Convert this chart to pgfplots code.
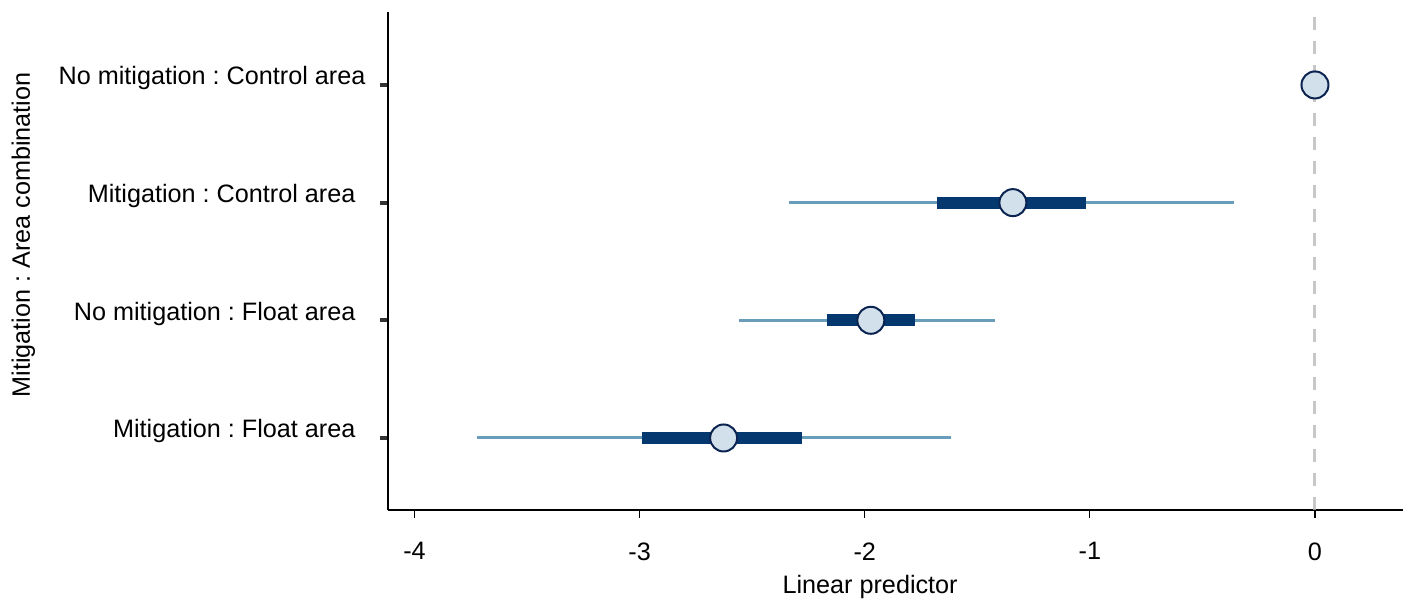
\documentclass[border=0pt]{standalone}
\usepackage{pgfplots}
\pgfplotsset{compat=1.18}
\usepackage{fontspec}
\setmainfont{Liberation Sans}
\frenchspacing
\definecolor{thinc}{RGB}{106,157,188}
\definecolor{thickc}{RGB}{5,56,110}
\definecolor{ptfill}{RGB}{209,224,235}
\definecolor{ptdraw}{RGB}{10,35,80}
\definecolor{tickc}{RGB}{51,51,51}
\begin{document}
\frenchspacing
\begin{tikzpicture}
\useasboundingbox (-194pt,-44.5pt) rectangle (512.5pt,255pt);
\begin{axis}[
  at={(0,0)}, anchor=south west,
  scale only axis, width=507.5pt, height=249pt,
  xmin=-4.118, xmax=0.391,
  ymin=0.388, ymax=4.620,
  axis x line*=bottom, axis y line*=left,
  axis line style={-, line width=0.75pt, black},
  tick align=outside,
  major tick length=3.75pt,
  xtick={-4,-3,-2,-1,0},
  xticklabels={-4,-3,-2,-1,0},
  ytick={1,2,3,4},
  yticklabels={{Mitigation : Float area\hspace*{5pt}},{No mitigation : Float area\hspace*{5pt}},{Mitigation : Control area\hspace*{5pt}},{No mitigation : Control area}},
  xtick style={line width=0.6pt, black},
  ytick style={line width=2pt, tickc},
  every tick label/.append style={font=\fontsize{12.6pt}{15pt}\selectfont\frenchspacing, text=black},
  yticklabel style={anchor=base east, xshift=-4pt},
  xticklabel style={yshift=-9pt},
  xlabel={Linear predictor},
  ylabel={Mitigation : Area combination},
  label style={font=\fontsize{12.6pt}{15pt}\selectfont\frenchspacing},
  xlabel style={at={(axis description cs:0.475,-0.1667)}, anchor=base},
  ylabel style={at={(axis description cs:-0.3527,0.552)}, anchor=base},
  clip=false,
]
% 95% intervals
\addplot[thinc, line width=1.5pt] coordinates {(-3.723,1) (-1.615,1)};
\addplot[thinc, line width=1.5pt] coordinates {(-2.559,2) (-1.421,2)};
\addplot[thinc, line width=1.5pt] coordinates {(-2.338,3) (-0.361,3)};
% 50% intervals
\addplot[thickc, line width=6pt] coordinates {(-2.988,1) (-2.281,1)};
\addplot[thickc, line width=6pt] coordinates {(-2.169,2) (-1.778,2)};
\addplot[thickc, line width=6pt] coordinates {(-1.681,3) (-1.016,3)};
% estimates
\addplot[only marks, mark=*, mark size=6.75pt, mark options={fill=ptfill, draw=ptdraw, line width=1pt}]
  coordinates {(-2.627,1) (-1.973,2) (-1.342,3) (0,4)};
% reference line
\addplot[gray!55, line width=1.5pt, dash pattern=on 6.5pt off 5.5pt, opacity=0.8] coordinates {(0,0.388) (0,4.62)};
\end{axis}
\end{tikzpicture}
\end{document}
